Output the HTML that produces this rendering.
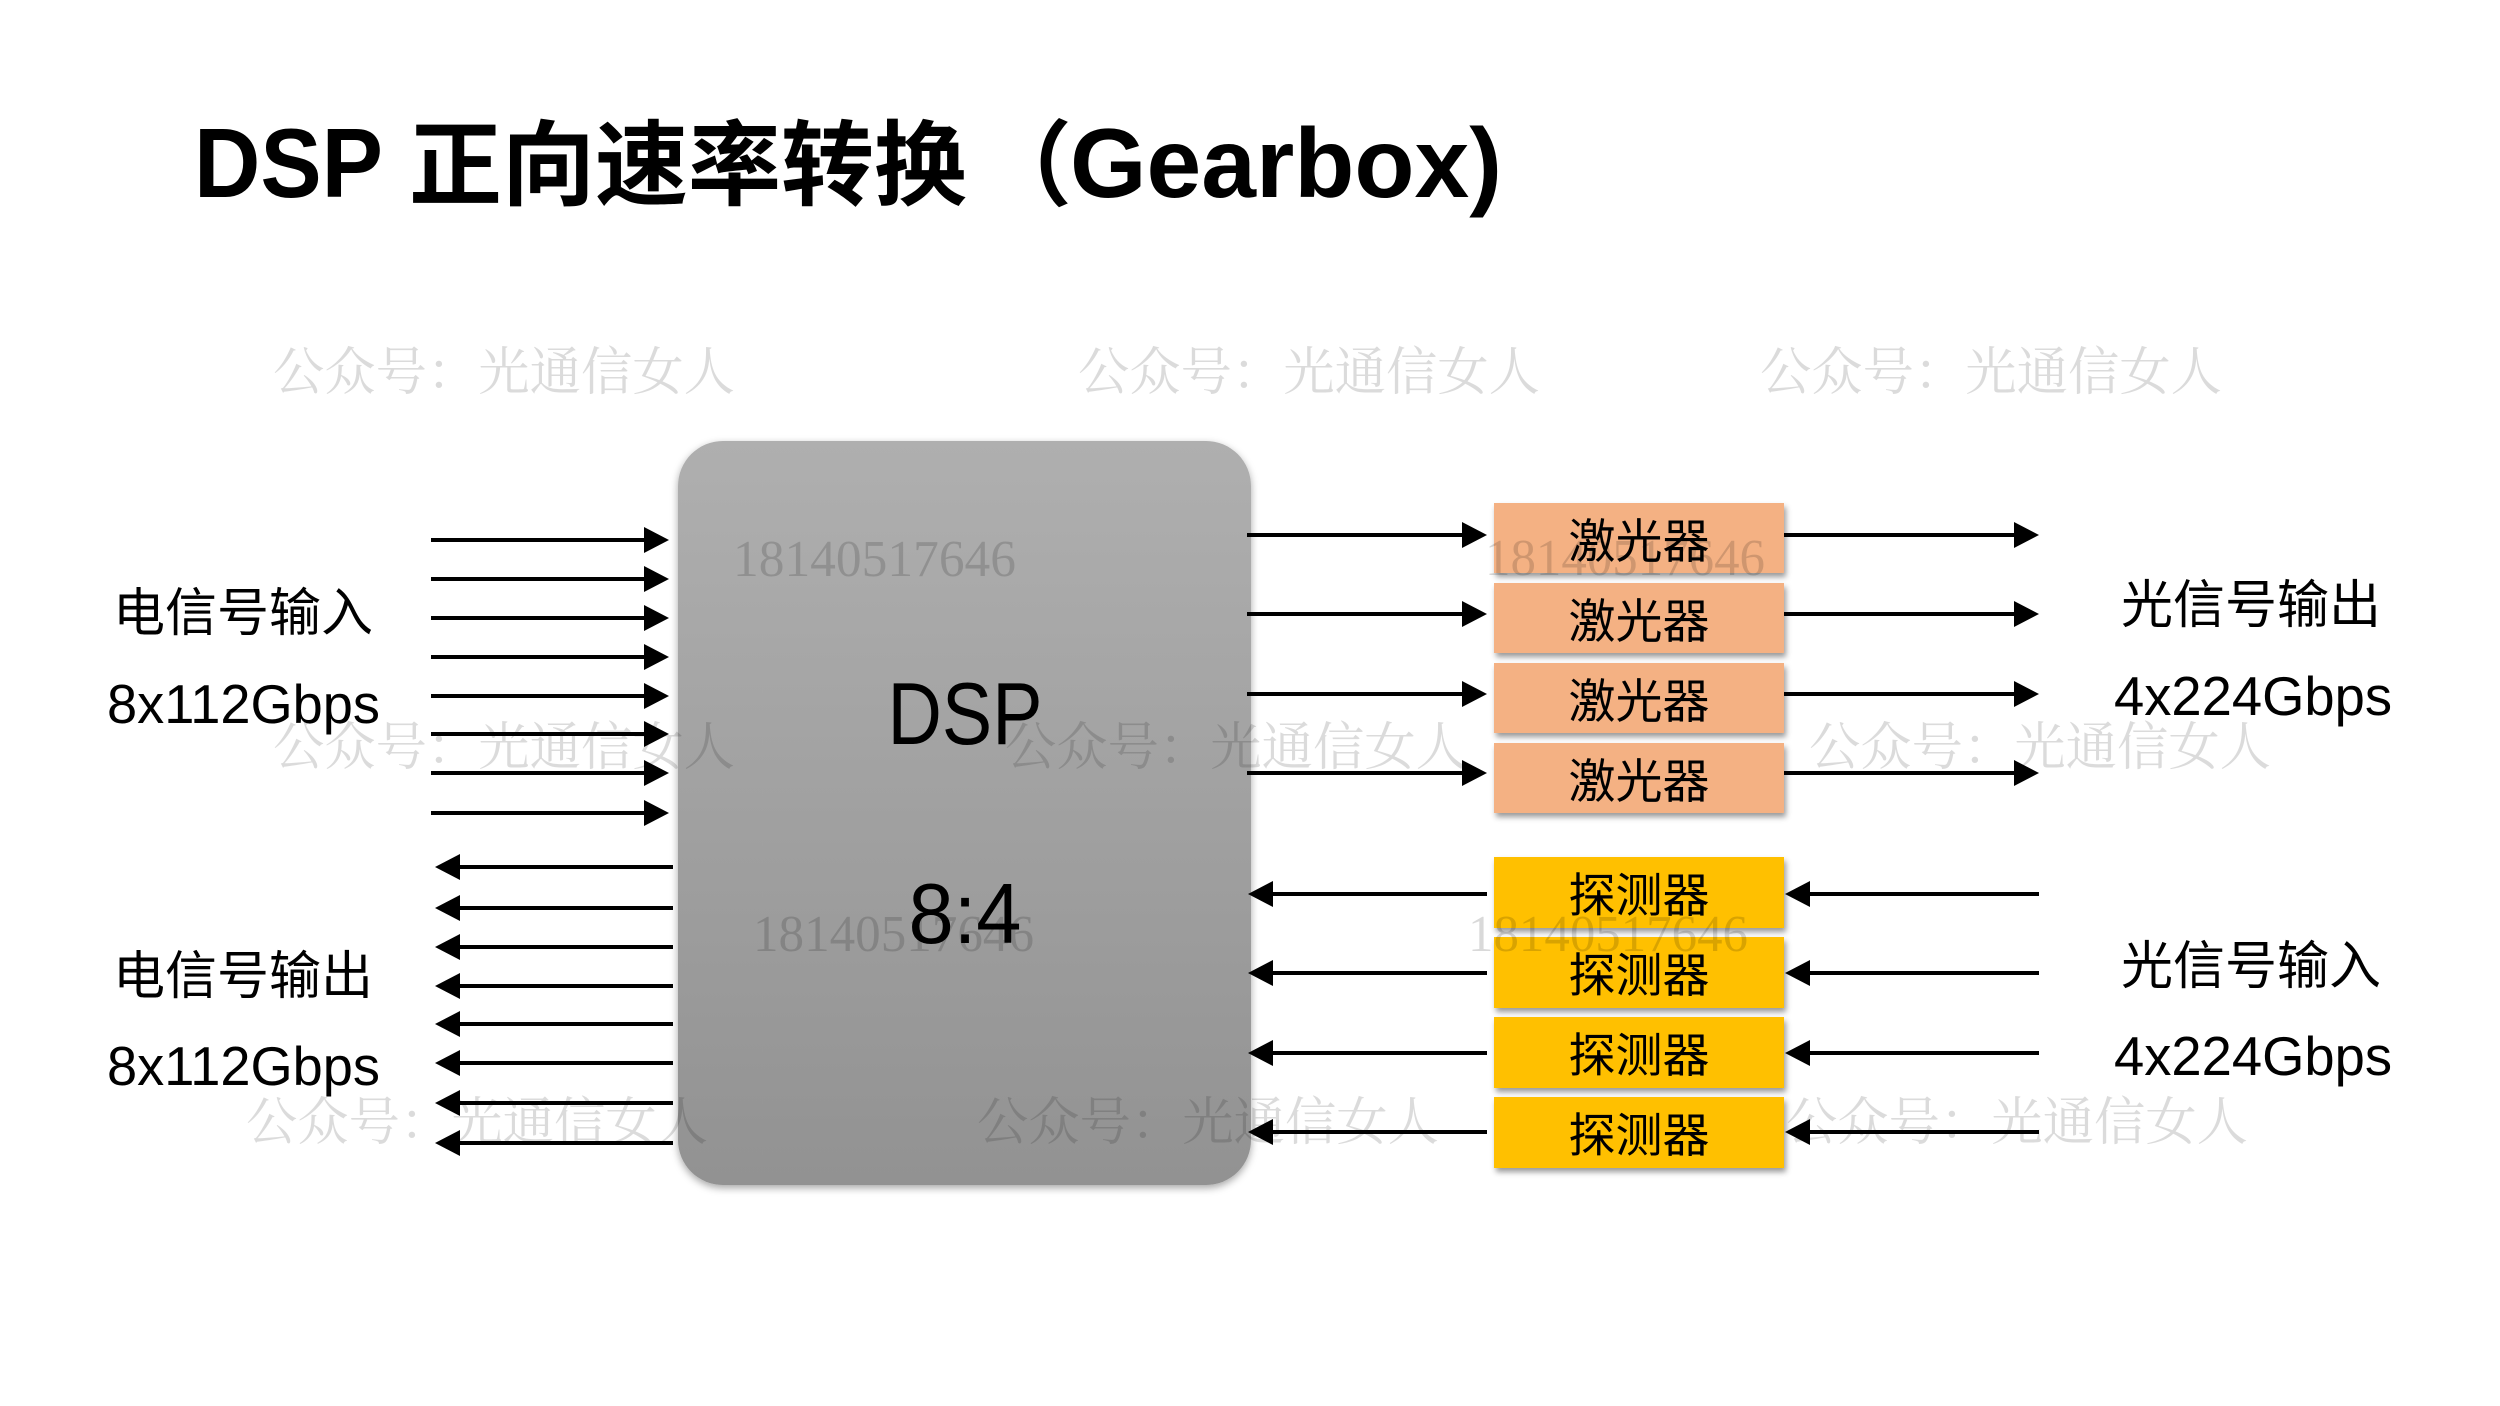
<!DOCTYPE html>
<html>
<head>
<meta charset="utf-8">
<style>
html,body{margin:0;padding:0;background:#fff;width:2500px;height:1406px;overflow:hidden}
svg{display:block}
.cjk{font-family:"Liberation Sans","Noto Sans CJK SC",sans-serif}
.lat{font-family:"Liberation Sans","Noto Sans CJK SC",sans-serif}
.wm{font-family:"Liberation Serif","Noto Serif CJK SC",serif}
</style>
</head>
<body>
<svg width="2500" height="1406" viewBox="0 0 2500 1406" xmlns="http://www.w3.org/2000/svg">
  <defs>
    <linearGradient id="dspg" x1="0" y1="0" x2="0" y2="1">
      <stop offset="0" stop-color="#afafaf"/>
      <stop offset="1" stop-color="#929292"/>
    </linearGradient>
    <filter id="sh1" x="-10%" y="-10%" width="120%" height="120%">
      <feDropShadow dx="0" dy="3" stdDeviation="4" flood-color="#000" flood-opacity="0.35"/>
    </filter>
    <filter id="sh2" x="-10%" y="-20%" width="120%" height="150%">
      <feDropShadow dx="2" dy="4" stdDeviation="3" flood-color="#000" flood-opacity="0.4"/>
    </filter>
  </defs>
  <rect width="2500" height="1406" fill="#fff"/>

  <!-- Title -->
  <text class="lat" x="194" y="197" font-size="98" font-weight="700" textLength="189" lengthAdjust="spacingAndGlyphs">DSP</text>
  <text class="cjk" x="409" y="198" font-size="93" font-weight="700">正向速率转换</text>
  <text class="cjk" x="979" y="198" font-size="93" font-weight="700">（</text>
  <text class="lat" x="1070" y="197" font-size="98" font-weight="700" textLength="432" lengthAdjust="spacingAndGlyphs">Gearbox)</text>

  <!-- DSP box -->
  <rect x="678" y="441" width="573" height="744" rx="45" ry="45" fill="url(#dspg)" filter="url(#sh1)"/>
  <text class="lat" x="965" y="744" font-size="88" text-anchor="middle" textLength="155" lengthAdjust="spacingAndGlyphs">DSP</text>
  <text class="lat" x="965" y="943" font-size="85" text-anchor="middle" textLength="113" lengthAdjust="spacingAndGlyphs">8:4</text>

  <!-- Laser boxes -->
  <g filter="url(#sh2)" fill="#F4B183">
    <rect x="1494" y="503" width="290" height="70"/>
    <rect x="1494" y="583" width="290" height="70"/>
    <rect x="1494" y="663" width="290" height="70"/>
    <rect x="1494" y="743" width="290" height="70"/>
  </g>
  <!-- Detector boxes -->
  <g filter="url(#sh2)" fill="#FFC000">
    <rect x="1494" y="857" width="290" height="71"/>
    <rect x="1494" y="937" width="290" height="71"/>
    <rect x="1494" y="1017" width="290" height="71"/>
    <rect x="1494" y="1097" width="290" height="71"/>
  </g>
  <g class="cjk" font-size="47" text-anchor="middle" fill="#000">
    <text x="1639" y="558">激光器</text>
    <text x="1639" y="638">激光器</text>
    <text x="1639" y="718">激光器</text>
    <text x="1639" y="798">激光器</text>
    <text x="1639" y="912">探测器</text>
    <text x="1639" y="992">探测器</text>
    <text x="1639" y="1072">探测器</text>
    <text x="1639" y="1152">探测器</text>
  </g>

  <!-- Left input arrows -->
  <g stroke="#000" stroke-width="4">
    <line x1="431" y1="540" x2="646" y2="540"/>
    <line x1="431" y1="579" x2="646" y2="579"/>
    <line x1="431" y1="618" x2="646" y2="618"/>
    <line x1="431" y1="657" x2="646" y2="657"/>
    <line x1="431" y1="696" x2="646" y2="696"/>
    <line x1="431" y1="734" x2="646" y2="734"/>
    <line x1="431" y1="773" x2="646" y2="773"/>
    <line x1="431" y1="813" x2="646" y2="813"/>
  </g>
  <g fill="#000">
    <polygon points="644,527 669,540 644,553"/>
    <polygon points="644,566 669,579 644,592"/>
    <polygon points="644,605 669,618 644,631"/>
    <polygon points="644,644 669,657 644,670"/>
    <polygon points="644,683 669,696 644,709"/>
    <polygon points="644,721 669,734 644,747"/>
    <polygon points="644,760 669,773 644,786"/>
    <polygon points="644,800 669,813 644,826"/>
  </g>

  <!-- Left output arrows -->
  <g stroke="#000" stroke-width="4">
    <line x1="458" y1="867" x2="673" y2="867"/>
    <line x1="458" y1="908" x2="673" y2="908"/>
    <line x1="458" y1="947" x2="673" y2="947"/>
    <line x1="458" y1="986" x2="673" y2="986"/>
    <line x1="458" y1="1024" x2="673" y2="1024"/>
    <line x1="458" y1="1063" x2="673" y2="1063"/>
    <line x1="458" y1="1103" x2="673" y2="1103"/>
    <line x1="458" y1="1143" x2="673" y2="1143"/>
  </g>
  <g fill="#000">
    <polygon points="435,867 460,854 460,880"/>
    <polygon points="435,908 460,895 460,921"/>
    <polygon points="435,947 460,934 460,960"/>
    <polygon points="435,986 460,973 460,999"/>
    <polygon points="435,1024 460,1011 460,1037"/>
    <polygon points="435,1063 460,1050 460,1076"/>
    <polygon points="435,1103 460,1090 460,1116"/>
    <polygon points="435,1143 460,1130 460,1156"/>
  </g>

  <!-- Laser arrows -->
  <g stroke="#000" stroke-width="4">
    <line x1="1247" y1="535" x2="1464" y2="535"/>
    <line x1="1247" y1="614" x2="1464" y2="614"/>
    <line x1="1247" y1="694" x2="1464" y2="694"/>
    <line x1="1247" y1="773" x2="1464" y2="773"/>
    <line x1="1784" y1="535" x2="2016" y2="535"/>
    <line x1="1784" y1="614" x2="2016" y2="614"/>
    <line x1="1784" y1="694" x2="2016" y2="694"/>
    <line x1="1784" y1="773" x2="2016" y2="773"/>
  </g>
  <g fill="#000">
    <polygon points="1462,522 1487,535 1462,548"/>
    <polygon points="1462,601 1487,614 1462,627"/>
    <polygon points="1462,681 1487,694 1462,707"/>
    <polygon points="1462,760 1487,773 1462,786"/>
    <polygon points="2014,522 2039,535 2014,548"/>
    <polygon points="2014,601 2039,614 2014,627"/>
    <polygon points="2014,681 2039,694 2014,707"/>
    <polygon points="2014,760 2039,773 2014,786"/>
  </g>

  <!-- Detector arrows -->
  <g stroke="#000" stroke-width="4">
    <line x1="1271" y1="894" x2="1487" y2="894"/>
    <line x1="1271" y1="973" x2="1487" y2="973"/>
    <line x1="1271" y1="1053" x2="1487" y2="1053"/>
    <line x1="1271" y1="1132" x2="1487" y2="1132"/>
    <line x1="1808" y1="894" x2="2039" y2="894"/>
    <line x1="1808" y1="973" x2="2039" y2="973"/>
    <line x1="1808" y1="1053" x2="2039" y2="1053"/>
    <line x1="1808" y1="1132" x2="2039" y2="1132"/>
  </g>
  <g fill="#000">
    <polygon points="1248,894 1273,881 1273,907"/>
    <polygon points="1248,973 1273,960 1273,986"/>
    <polygon points="1248,1053 1273,1040 1273,1066"/>
    <polygon points="1248,1132 1273,1119 1273,1145"/>
    <polygon points="1785,894 1810,881 1810,907"/>
    <polygon points="1785,973 1810,960 1810,986"/>
    <polygon points="1785,1053 1810,1040 1810,1066"/>
    <polygon points="1785,1132 1810,1119 1810,1145"/>
  </g>

  <!-- Side labels -->
  <g fill="#000">
    <text class="cjk" x="113" y="631" font-size="52">电信号输入</text>
    <text class="lat" x="107" y="723" font-size="55" textLength="273" lengthAdjust="spacingAndGlyphs">8x112Gbps</text>
    <text class="cjk" x="113" y="994" font-size="52">电信号输出</text>
    <text class="lat" x="107" y="1085" font-size="55" textLength="273" lengthAdjust="spacingAndGlyphs">8x112Gbps</text>

    <text class="cjk" x="2121" y="623" font-size="52">光信号输出</text>
    <text class="lat" x="2114" y="715" font-size="55" textLength="278" lengthAdjust="spacingAndGlyphs">4x224Gbps</text>
    <text class="cjk" x="2121" y="984" font-size="52">光信号输入</text>
    <text class="lat" x="2114" y="1075" font-size="55" textLength="278" lengthAdjust="spacingAndGlyphs">4x224Gbps</text>
  </g>

  <!-- Watermarks -->
  <g class="wm" fill="#000" fill-opacity="0.14" font-size="52">
    <text x="273" y="390" textLength="462" lengthAdjust="spacingAndGlyphs">公众号：光通信女人</text>
    <text x="1078" y="390" textLength="462" lengthAdjust="spacingAndGlyphs">公众号：光通信女人</text>
    <text x="1760" y="390" textLength="462" lengthAdjust="spacingAndGlyphs">公众号：光通信女人</text>
    <text x="273" y="765" textLength="462" lengthAdjust="spacingAndGlyphs">公众号：光通信女人</text>
    <text x="1005" y="765" textLength="462" lengthAdjust="spacingAndGlyphs">公众号：光通信女人</text>
    <text x="1809" y="765" textLength="462" lengthAdjust="spacingAndGlyphs">公众号：光通信女人</text>
    <text x="246" y="1140" textLength="462" lengthAdjust="spacingAndGlyphs">公众号：光通信女人</text>
    <text x="977" y="1140" textLength="462" lengthAdjust="spacingAndGlyphs">公众号：光通信女人</text>
    <text x="1786" y="1140" textLength="462" lengthAdjust="spacingAndGlyphs">公众号：光通信女人</text>
  </g>
  <g class="wm" fill="#000" fill-opacity="0.15" font-size="52">
    <text x="733" y="576" textLength="283" lengthAdjust="spacingAndGlyphs">18140517646</text>
    <text x="753" y="951" textLength="281" lengthAdjust="spacingAndGlyphs">18140517646</text>
    <text x="1485" y="575" textLength="280" lengthAdjust="spacingAndGlyphs">18140517646</text>
    <text x="1468" y="951" textLength="280" lengthAdjust="spacingAndGlyphs">18140517646</text>
  </g>
</svg>
</body>
</html>
